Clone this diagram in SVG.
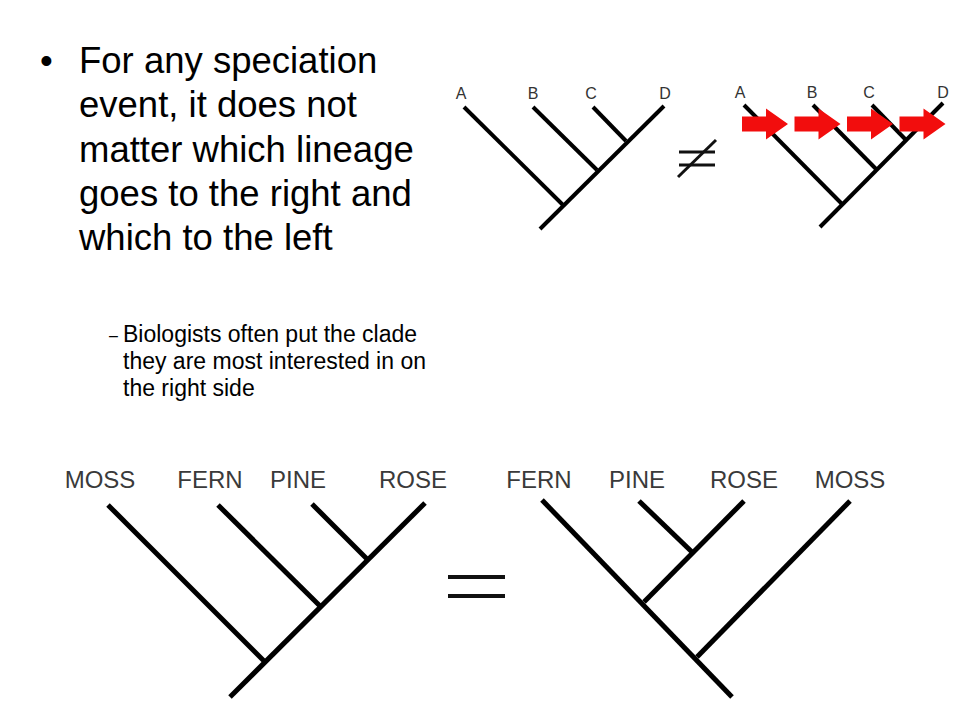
<svg xmlns="http://www.w3.org/2000/svg" width="960" height="720" viewBox="0 0 960 720">
<style>
.main{font-family:"Liberation Sans",Arial,sans-serif;font-size:36.5px;fill:#000}
.sub{font-family:"Liberation Sans",Arial,sans-serif;font-size:23px;fill:#000}
.dash{font-family:"Liberation Sans",Arial,sans-serif;font-size:16px;fill:#000}
.lbl{font-family:"Liberation Sans",Arial,sans-serif;font-size:16px;fill:#333;text-anchor:middle}
.big{font-family:"Liberation Sans",Arial,sans-serif;font-size:24px;fill:#3a3a3a;text-anchor:middle}
.br4{stroke:#000;stroke-width:4;fill:none}
.br5{stroke:#000;stroke-width:5;fill:none}
.sym{stroke:#111;fill:none}
.arr{fill:#f20d0d}
</style>
<defs>
<path id="redarrow" d="M0,-7.5 H24 V-15.5 L46,0 L24,15.5 V7.5 H0 Z"/>
</defs>
<rect width="960" height="720" fill="#fff"/>
<g id="text">
<text class="main" x="40" y="73">•</text>
<text class="main" x="79" y="73">For any speciation</text>
<text class="main" x="79" y="117">event, it does not</text>
<text class="main" x="79" y="161.5">matter which lineage</text>
<text class="main" x="79" y="205.5">goes to the right and</text>
<text class="main" x="79" y="250">which to the left</text>
<text class="dash" x="109" y="341">–</text>
<text class="sub" x="123" y="342">Biologists often put the clade</text>
<text class="sub" x="123" y="369">they are most interested in on</text>
<text class="sub" x="123" y="396">the right side</text>
</g>
<g id="connectors">
<g id="tree-top-left">
<line class="br4" x1="464" y1="107" x2="563" y2="205"/>
<line class="br4" x1="540" y1="229" x2="664" y2="106"/>
<line class="br4" x1="533" y1="107" x2="597" y2="170"/>
<line class="br4" x1="593" y1="107" x2="626" y2="141"/>
</g>
<g id="tree-top-right">
<line class="br4" x1="744" y1="105" x2="842" y2="204"/>
<line class="br4" x1="820" y1="227" x2="943" y2="103"/>
<line class="br4" x1="813" y1="105" x2="876" y2="169"/>
<line class="br4" x1="872" y1="105" x2="906" y2="140"/>
</g>
<g id="tree-bottom-left">
<line class="br5" x1="108" y1="505" x2="264" y2="661"/>
<line class="br5" x1="230" y1="697" x2="425" y2="503"/>
<line class="br5" x1="218" y1="505" x2="320" y2="606"/>
<line class="br5" x1="312" y1="504" x2="367" y2="559"/>
</g>
<g id="tree-bottom-right">
<line class="br5" x1="542" y1="500" x2="732" y2="697"/>
<line class="br5" x1="850" y1="501" x2="697" y2="657"/>
<line class="br5" x1="744" y1="501" x2="644" y2="602"/>
<line class="br5" x1="639" y1="501" x2="692" y2="552"/>
</g>
</g>
<g id="labels-top-left">
<text class="lbl" x="461" y="99">A</text>
<text class="lbl" x="533" y="99">B</text>
<text class="lbl" x="591" y="99">C</text>
<text class="lbl" x="665" y="99">D</text>
</g>
<g id="labels-top-right">
<text class="lbl" x="740" y="98">A</text>
<text class="lbl" x="812" y="98">B</text>
<text class="lbl" x="869" y="98">C</text>
<text class="lbl" x="943" y="98">D</text>
</g>
<g id="not-equal">
<line class="sym" stroke-width="3" x1="679" y1="152" x2="715" y2="152"/>
<line class="sym" stroke-width="3" x1="679" y1="165" x2="715" y2="165"/>
<line class="sym" stroke-width="3" x1="678" y1="177" x2="716" y2="140"/>
</g>
<g id="red-arrows">
<use href="#redarrow" class="arr" x="742" y="124"/>
<use href="#redarrow" class="arr" x="794.5" y="124"/>
<use href="#redarrow" class="arr" x="847" y="124"/>
<use href="#redarrow" class="arr" x="899.5" y="124"/>
</g>
<g id="labels-bottom-left">
<text class="big" x="100" y="488">MOSS</text>
<text class="big" x="210" y="488">FERN</text>
<text class="big" x="298" y="488">PINE</text>
<text class="big" x="413" y="488">ROSE</text>
</g>
<g id="equal">
<line class="sym" stroke-width="4" x1="448" y1="577" x2="505" y2="577"/>
<line class="sym" stroke-width="4" x1="448" y1="596" x2="505" y2="596"/>
</g>
<g id="labels-bottom-right">
<text class="big" x="539" y="488">FERN</text>
<text class="big" x="637" y="488">PINE</text>
<text class="big" x="744" y="488">ROSE</text>
<text class="big" x="850" y="488">MOSS</text>
</g>
</svg>
